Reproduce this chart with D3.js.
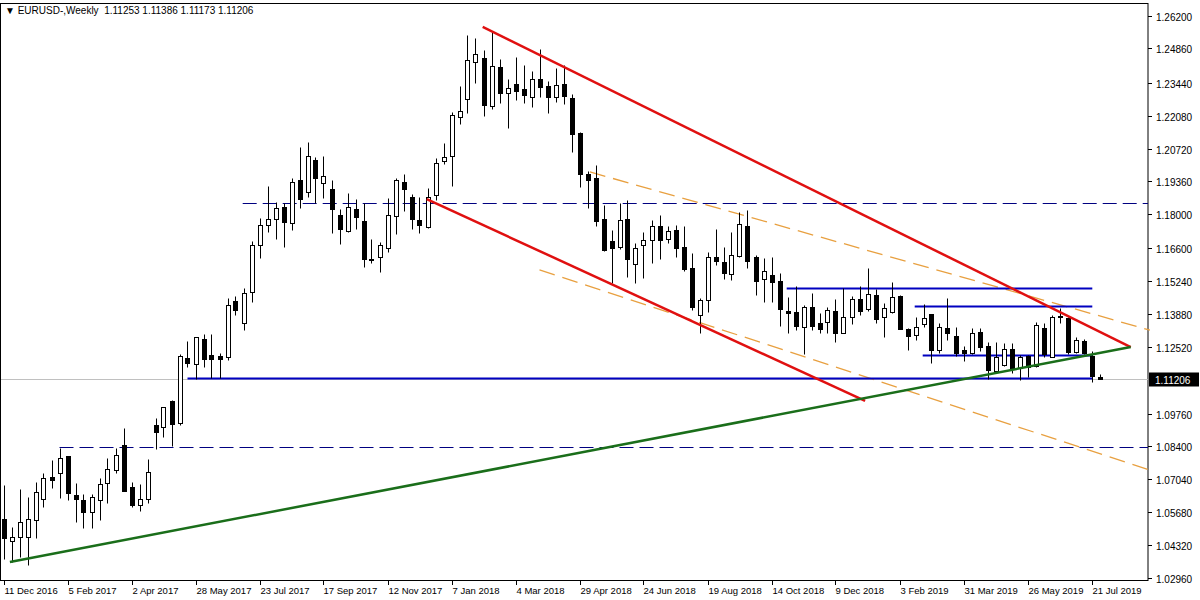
<!DOCTYPE html>
<html><head><meta charset="utf-8">
<script src="https://cdn.jsdelivr.net/npm/d3@7"></script>
<style>body{margin:0;background:#fff}svg{display:block}text{font-family:"Liberation Sans",Arial,sans-serif}</style>
</head><body><svg id="c" width="1200" height="600"></svg>
<script>
const opens=[1.0540,1.0449,1.0465,1.0465,1.0536,1.0623,1.0713,1.0730,1.0800,1.0639,1.0618,1.0569,1.0618,1.0689,1.0742,1.0846,1.0672,1.0597,1.0623,1.0928,1.0920,1.1028,1.0937,1.1206,1.1180,1.1284,1.1218,1.1214,1.1210,1.1442,1.1351,1.1479,1.1673,1.1755,1.1781,1.1830,1.1764,1.1942,1.1892,1.2025,1.1930,1.1905,1.1797,1.1731,1.1822,1.1772,1.1615,1.1623,1.1661,1.1793,1.1934,1.1871,1.1776,1.1747,1.1879,1.2021,1.2041,1.2202,1.2277,1.2430,1.2447,1.2248,1.2409,1.2302,1.2338,1.2318,1.2285,1.2360,1.2330,1.2285,1.2338,1.2281,1.2136,1.1966,1.1950,1.1781,1.1690,1.1665,1.1781,1.1594,1.1673,1.1694,1.1751,1.1698,1.1735,1.1665,1.1578,1.1383,1.1446,1.1623,1.1603,1.1553,1.1627,1.1751,1.1623,1.1533,1.1549,1.1524,1.1400,1.1396,1.1334,1.1417,1.1351,1.1355,1.1400,1.1309,1.1375,1.1450,1.1409,1.1466,1.1375,1.1396,1.1462,1.1326,1.1300,1.1347,1.1388,1.1239,1.1330,1.1297,1.1239,1.1227,1.1313,1.1255,1.1152,1.1176,1.1243,1.1164,1.1214,1.1172,1.1330,1.1210,1.1379,1.1371,1.1231,1.1276,1.1214,1.11253];
const highs=[1.0680,1.0507,1.0664,1.0631,1.0693,1.0730,1.0784,1.0834,1.0800,1.0689,1.0643,1.0643,1.0709,1.0792,1.0834,1.0916,1.0693,1.0684,1.0788,1.0958,1.1003,1.1032,1.1222,1.1276,1.1292,1.1304,1.1304,1.1227,1.1454,1.1462,1.1495,1.1690,1.1785,1.1917,1.1851,1.1847,1.1950,1.2078,1.2099,1.2037,1.2041,1.1942,1.1822,1.1888,1.1863,1.1847,1.1698,1.1686,1.1867,1.1950,1.1966,1.1883,1.1871,1.1909,1.2033,1.2095,1.2223,1.2330,1.2541,1.2529,1.2480,1.2554,1.2443,1.2360,1.2451,1.2417,1.2393,1.2484,1.2351,1.2405,1.2417,1.2297,1.2140,1.1979,1.2004,1.1838,1.1735,1.1847,1.1859,1.1682,1.1727,1.1776,1.1797,1.1751,1.1755,1.1751,1.1640,1.1454,1.1644,1.1739,1.1665,1.1727,1.1810,1.1818,1.1632,1.1619,1.1623,1.1558,1.1458,1.1503,1.1425,1.1475,1.1392,1.1417,1.1450,1.1495,1.1462,1.1503,1.1578,1.1491,1.1433,1.1520,1.1466,1.1330,1.1375,1.1429,1.1388,1.1351,1.1454,1.1334,1.1255,1.1330,1.1330,1.1272,1.1272,1.1268,1.1268,1.1218,1.1218,1.1355,1.1351,1.1383,1.1413,1.1375,1.1292,1.1284,1.1235,1.11386];
const lows=[1.0375,1.0362,1.0383,1.0349,1.0461,1.0589,1.0668,1.0627,1.0618,1.0528,1.0503,1.0503,1.0536,1.0606,1.0730,1.0656,1.0589,1.0573,1.0606,1.0830,1.0879,1.0842,1.0928,1.1168,1.1119,1.1168,1.1123,1.1123,1.1197,1.1383,1.1321,1.1438,1.1619,1.1727,1.1698,1.1665,1.1735,1.1826,1.1871,1.1847,1.1867,1.1723,1.1677,1.1727,1.1739,1.1582,1.1599,1.1562,1.1644,1.1718,1.1814,1.1739,1.1723,1.1743,1.1859,1.2008,1.1917,1.2173,1.2219,1.2343,1.2206,1.2236,1.2261,1.2157,1.2273,1.2261,1.2244,1.2285,1.2219,1.2265,1.2256,1.2058,1.1913,1.1826,1.1751,1.1648,1.1516,1.1657,1.1541,1.1516,1.1537,1.1599,1.1615,1.1682,1.1623,1.1566,1.1404,1.1309,1.1396,1.1590,1.1533,1.1528,1.1623,1.1578,1.1466,1.1438,1.1438,1.1338,1.1309,1.1321,1.1222,1.1321,1.1309,1.1309,1.1272,1.1309,1.1347,1.1383,1.1400,1.1351,1.1292,1.1392,1.1324,1.1239,1.1280,1.1334,1.1185,1.1227,1.1280,1.1214,1.1193,1.1222,1.1235,1.1119,1.1148,1.1172,1.1144,1.1115,1.1127,1.1168,1.1210,1.1208,1.1351,1.1222,1.1227,1.1222,1.1107,1.11173];
const closes=[1.0461,1.0465,1.0528,1.0540,1.0652,1.0709,1.0701,1.0792,1.0648,1.0623,1.0569,1.0631,1.0684,1.0747,1.0804,1.0656,1.0597,1.0623,1.0734,1.0900,1.1003,1.0932,1.1214,1.1185,1.1292,1.1202,1.1202,1.1202,1.1425,1.1404,1.1475,1.1673,1.1755,1.1781,1.1826,1.1768,1.1934,1.1863,1.2041,1.1950,1.1958,1.1822,1.1739,1.1830,1.1789,1.1615,1.1613,1.1673,1.1797,1.1942,1.1905,1.1781,1.1755,1.1871,1.2013,1.2037,1.2210,1.2227,1.2438,1.2463,1.2252,1.2413,1.2302,1.2322,1.2310,1.2293,1.2360,1.2326,1.2285,1.2334,1.2289,1.2132,1.1966,1.1942,1.1772,1.1652,1.1661,1.1776,1.1615,1.1661,1.1694,1.1751,1.1694,1.1731,1.1661,1.1574,1.1417,1.1446,1.1623,1.1607,1.1558,1.1632,1.1760,1.1607,1.1524,1.1566,1.1520,1.1409,1.1392,1.1338,1.1417,1.1338,1.1326,1.1404,1.1309,1.1375,1.1450,1.1400,1.1470,1.1367,1.1413,1.1458,1.1326,1.1297,1.1334,1.1371,1.1239,1.1334,1.1309,1.1227,1.1227,1.1309,1.1251,1.1156,1.1210,1.1243,1.1160,1.1210,1.1168,1.1342,1.1222,1.1375,1.1377,1.1231,1.1280,1.1227,1.1131,1.11206];
const priceTicks=["1.26200","1.24860","1.23440","1.22080","1.20720","1.19360","1.18000","1.16600","1.15240","1.13880","1.12520","1.09760","1.08400","1.07040","1.05680","1.04320","1.02960"];
const dateTicks=["11 Dec 2016","5 Feb 2017","2 Apr 2017","28 May 2017","23 Jul 2017","17 Sep 2017","12 Nov 2017","7 Jan 2018","4 Mar 2018","29 Apr 2018","24 Jun 2018","19 Aug 2018","14 Oct 2018","9 Dec 2018","3 Feb 2019","31 Mar 2019","26 May 2019","21 Jul 2019"];
// drawings: [startIndex, startPrice, endIndex, endPrice]
const redLines=[[59.9,1.2575,140.9,1.1251],[52.9,1.1863,107.7,1.1028]];
const greenLine=[[0.8,1.0362,140.9,1.1251]];
const orangeLines=[[73.3,1.1975,143.3,1.1321],[67.0,1.1570,143.3,1.0742]];
const blackDashed=[[29.9,1.1847],[7.0,1.0838]];
const blueLines=[[23.0,136.1,1.1122],[97.9,136.1,1.1495],[113.9,136.1,1.1421],[114.9,136.1,1.1218]];
const lastPrice=1.11206;

const svg=d3.select("#c");
const n=opens.length;
const x=d3.scaleLinear().domain([0,n-1]).range([3.5,3.5+8*(n-1)]);
const y=d3.scaleLinear().domain([1.0296,1.262]).range([578,16]);
const R=1148;
const py=v=>Math.round(y(v))+0.5;
svg.append("rect").attr("x",0.5).attr("y",3.5).attr("width",R-0.5).attr("height",577).attr("fill","none").attr("stroke","#000");
svg.append("line").attr("x1",1).attr("x2",R).attr("y1",py(lastPrice)).attr("y2",py(lastPrice)).attr("stroke","#c0c0c0");
blackDashed.forEach(d=>svg.append("line").attr("x1",x(d[0])).attr("x2",R).attr("y1",py(d[1])).attr("y2",py(d[1])).attr("stroke","#000080").attr("stroke-dasharray","14,6"));
orangeLines.forEach(d=>svg.append("line").attr("x1",x(d[0])).attr("y1",y(d[1])).attr("x2",x(d[2])).attr("y2",y(d[3])).attr("stroke","#e8a040").attr("stroke-width",1.3).attr("stroke-dasharray","16,8"));
blueLines.forEach(d=>svg.append("line").attr("x1",x(d[0])).attr("x2",x(d[1])).attr("y1",py(d[2])).attr("y2",py(d[2])).attr("stroke","#0000c0").attr("stroke-width",2));
const g=svg.append("g");
for(let i=0;i<n;i++){
  const cx=Math.round(x(i))+0.5;
  const up=closes[i]>=opens[i];
  g.append("line").attr("x1",cx).attr("x2",cx).attr("y1",py(highs[i])).attr("y2",py(lows[i])).attr("stroke","#000");
  const t=py(Math.max(opens[i],closes[i])), b=py(Math.min(opens[i],closes[i]));
  g.append("rect").attr("x",cx-2).attr("y",t).attr("width",4).attr("height",Math.max(b-t,0.01)).attr("fill",up?"#fff":"#000").attr("stroke","#000");
}
redLines.forEach(d=>svg.append("line").attr("x1",x(d[0])).attr("y1",y(d[1])).attr("x2",x(d[2])).attr("y2",y(d[3])).attr("stroke","#e01010").attr("stroke-width",2.5));
greenLine.forEach(d=>svg.append("line").attr("x1",x(d[0])).attr("y1",y(d[1])).attr("x2",x(d[2])).attr("y2",y(d[3])).attr("stroke","#1a6e1a").attr("stroke-width",2.5));
priceTicks.forEach(t=>{const v=+t;const yy=py(v);
  svg.append("line").attr("x1",R).attr("x2",R+4).attr("y1",yy).attr("y2",yy).attr("stroke","#000");
  svg.append("text").attr("x",R+8).attr("y",yy+4).attr("font-size",10).text(t);});
svg.append("rect").attr("x",R+1).attr("y",py(lastPrice)-7).attr("width",50).attr("height",14).attr("fill","#000");
svg.append("text").attr("x",R+7).attr("y",py(lastPrice)+4).attr("font-size",10).attr("fill","#fff").text(lastPrice.toFixed(5));
dateTicks.forEach((t,k)=>{const xx=Math.round(x(k*8))+0.5;
  svg.append("line").attr("x1",xx).attr("x2",xx).attr("y1",580).attr("y2",585).attr("stroke","#000");
  svg.append("text").attr("x",xx).attr("y",594).attr("font-size",9.5).text(t);});
svg.append("text").attr("x",5).attr("y",14).attr("font-size",10).attr("xml:space","preserve").text("▼ EURUSD-,Weekly  "+[opens[n-1],highs[n-1],lows[n-1],closes[n-1]].map(v=>v.toFixed(5)).join(" "));
</script></body></html>
